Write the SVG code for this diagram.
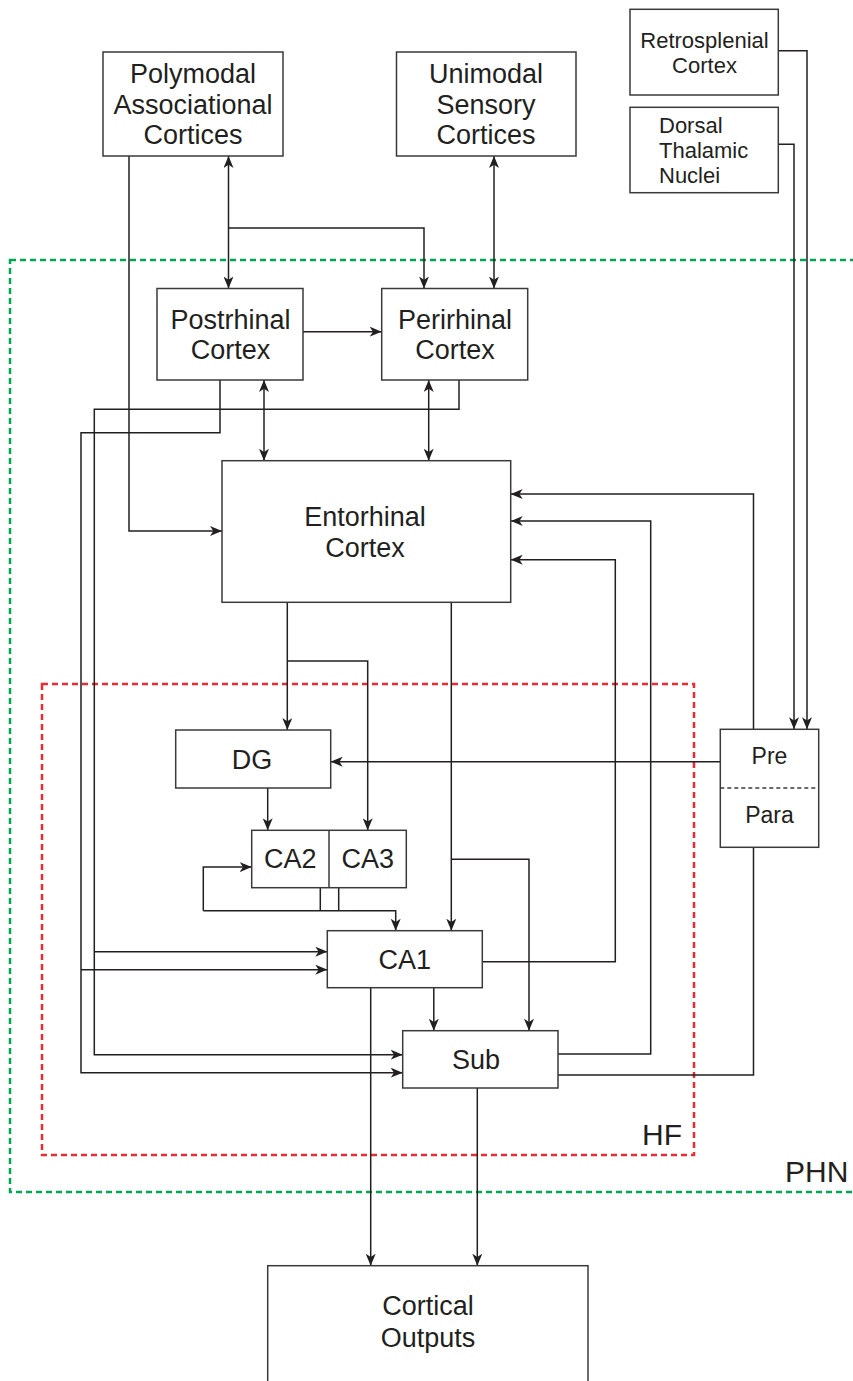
<svg xmlns="http://www.w3.org/2000/svg" width="853" height="1381" viewBox="0 0 853 1381">
<style>
.bx{fill:#fff;stroke:#3a3a3a;stroke-width:1.5}
.ln{fill:none;stroke:#231f20;stroke-width:1.5}
.t{font-family:"Liberation Sans",Arial,sans-serif;font-size:27px;fill:#231f20;text-anchor:middle}
.s{font-size:22px}
.l{text-anchor:start}
.red{fill:none;stroke:#ee2a32;stroke-width:2.5;stroke-dasharray:6 4}
.grn{fill:none;stroke:#00a651;stroke-width:2.5;stroke-dasharray:6 4}
</style>
<defs>
<marker id="a" viewBox="0 0 12 10" refX="12" refY="5" markerWidth="12" markerHeight="10" markerUnits="userSpaceOnUse" orient="auto-start-reverse">
<path d="M0,0 L12,5 L0,10 L3.3,5 z" fill="#231f20"/>
</marker>
</defs>
<rect width="853" height="1381" fill="#fff"/>
<g id="regions">
<rect class="grn" x="10" y="260" width="900" height="932"/>
<rect class="red" x="42" y="684" width="652" height="471"/>
<text class="t l" x="642" y="1145" style="font-size:30px">HF</text>
<text class="t l" x="785" y="1182" style="font-size:30px">PHN</text>
</g>
<g id="connectors">
<path class="ln" d="M129,156 V531 H222" marker-end="url(#a)"/>
<path class="ln" d="M228.5,156 V288.5" marker-start="url(#a)" marker-end="url(#a)"/>
<path class="ln" d="M228.5,228 H424 V288.5" marker-end="url(#a)"/>
<path class="ln" d="M494,156 V288.5" marker-start="url(#a)" marker-end="url(#a)"/>
<path class="ln" d="M303,331.7 H381.7" marker-end="url(#a)"/>
<path class="ln" d="M264,380 V460.7" marker-start="url(#a)" marker-end="url(#a)"/>
<path class="ln" d="M428.7,380 V460.7" marker-start="url(#a)" marker-end="url(#a)"/>
<path class="ln" d="M220,380 V432.7 H81 V1072.7 H402.7" marker-end="url(#a)"/>
<path class="ln" d="M81,969.7 H327.3" marker-end="url(#a)"/>
<path class="ln" d="M459,380 V409.3 H94.3 V1054.7 H402.7" marker-end="url(#a)"/>
<path class="ln" d="M94.3,951.7 H327.3" marker-end="url(#a)"/>
<path class="ln" d="M287.3,602.3 V730" marker-end="url(#a)"/>
<path class="ln" d="M287.3,661 H367.7 V830.3" marker-end="url(#a)"/>
<path class="ln" d="M451.3,602.3 V930.7" marker-end="url(#a)"/>
<path class="ln" d="M451.3,859.3 H529 V1030.7" marker-end="url(#a)"/>
<path class="ln" d="M267.7,788 V830.3" marker-end="url(#a)"/>
<path class="ln" d="M320.3,887.7 V910.7 M338.7,887.7 V910.7"/>
<path class="ln" d="M203.3,910.7 H395.7 V930.7" marker-end="url(#a)"/>
<path class="ln" d="M203.3,910.7 V867 H251.7" marker-end="url(#a)"/>
<path class="ln" d="M433.8,987.7 V1030.7" marker-end="url(#a)"/>
<path class="ln" d="M370.7,987.7 V1265.7" marker-end="url(#a)"/>
<path class="ln" d="M477.3,1088 V1265.7" marker-end="url(#a)"/>
<path class="ln" d="M482.3,961.7 H615.3 V559.7 H510.7" marker-end="url(#a)"/>
<path class="ln" d="M558,1054 H650.7 V521 H510.7" marker-end="url(#a)"/>
<path class="ln" d="M558,1075 H753.5 V847.3"/>
<path class="ln" d="M753.5,729.3 V494 H510.7" marker-end="url(#a)"/>
<path class="ln" d="M720.3,761.7 H330.7" marker-end="url(#a)"/>
<path class="ln" d="M778.3,50.7 H807 V729.3" marker-end="url(#a)"/>
<path class="ln" d="M778.3,144.3 H794 V729.3" marker-end="url(#a)"/>
</g>
<g id="polymodal">
<rect class="bx" x="103" y="52" width="180" height="104"/>
<text class="t" x="193" y="83">Polymodal</text>
<text class="t" x="193" y="113.5">Associational</text>
<text class="t" x="193" y="144">Cortices</text>
</g>
<g id="unimodal">
<rect class="bx" x="396.5" y="52" width="179.5" height="104"/>
<text class="t" x="486" y="83">Unimodal</text>
<text class="t" x="486" y="113.5">Sensory</text>
<text class="t" x="486" y="144">Cortices</text>
</g>
<g id="retrosplenial">
<rect class="bx" x="630" y="9.3" width="148.3" height="85.7"/>
<text class="t s" x="704.5" y="48.3">Retrosplenial</text>
<text class="t s" x="704.5" y="72.7">Cortex</text>
</g>
<g id="dorsal">
<rect class="bx" x="630" y="107.3" width="148.3" height="85.4"/>
<text class="t s l" x="659" y="133.3">Dorsal</text>
<text class="t s l" x="659" y="158.3">Thalamic</text>
<text class="t s l" x="659" y="182.7">Nuclei</text>
</g>
<g id="postrhinal">
<rect class="bx" x="157" y="288.5" width="146" height="91.5"/>
<text class="t" x="230.5" y="329.3">Postrhinal</text>
<text class="t" x="230.5" y="359.3">Cortex</text>
</g>
<g id="perirhinal">
<rect class="bx" x="381.7" y="288.5" width="146" height="91.5"/>
<text class="t" x="455" y="329.3">Perirhinal</text>
<text class="t" x="455" y="359.3">Cortex</text>
</g>
<g id="entorhinal">
<rect class="bx" x="222" y="460.7" width="288.7" height="141.6"/>
<text class="t" x="365" y="526">Entorhinal</text>
<text class="t" x="365" y="556.7">Cortex</text>
</g>
<g id="dg">
<rect class="bx" x="175.7" y="730" width="155" height="58"/>
<text class="t" x="252" y="769.3">DG</text>
</g>
<g id="ca2ca3">
<rect class="bx" x="251.7" y="830.3" width="154.6" height="57.4"/>
<line x1="329" y1="830.3" x2="329" y2="887.7" stroke="#3a3a3a" stroke-width="1.5"/>
<text class="t" x="290.3" y="868.3">CA2</text>
<text class="t" x="367.7" y="868.3">CA3</text>
</g>
<g id="ca1">
<rect class="bx" x="327.3" y="930.7" width="155" height="57"/>
<text class="t" x="404.8" y="969">CA1</text>
</g>
<g id="sub">
<rect class="bx" x="402.7" y="1030.7" width="155.3" height="57.3"/>
<text class="t" x="476" y="1069.3">Sub</text>
</g>
<g id="prepara">
<rect class="bx" x="720.3" y="729.3" width="98.4" height="118"/>
<line x1="720.3" y1="788" x2="818.7" y2="788" stroke="#3a3a3a" stroke-width="1.5" stroke-dasharray="4 3"/>
<text class="t" x="769.5" y="764" style="font-size:23px">Pre</text>
<text class="t" x="769.5" y="823.3" style="font-size:23px">Para</text>
</g>
<g id="cortical">
<rect class="bx" x="267.7" y="1265.7" width="320.3" height="130"/>
<text class="t" x="428" y="1315">Cortical</text>
<text class="t" x="428" y="1346.7">Outputs</text>
</g>
</svg>
